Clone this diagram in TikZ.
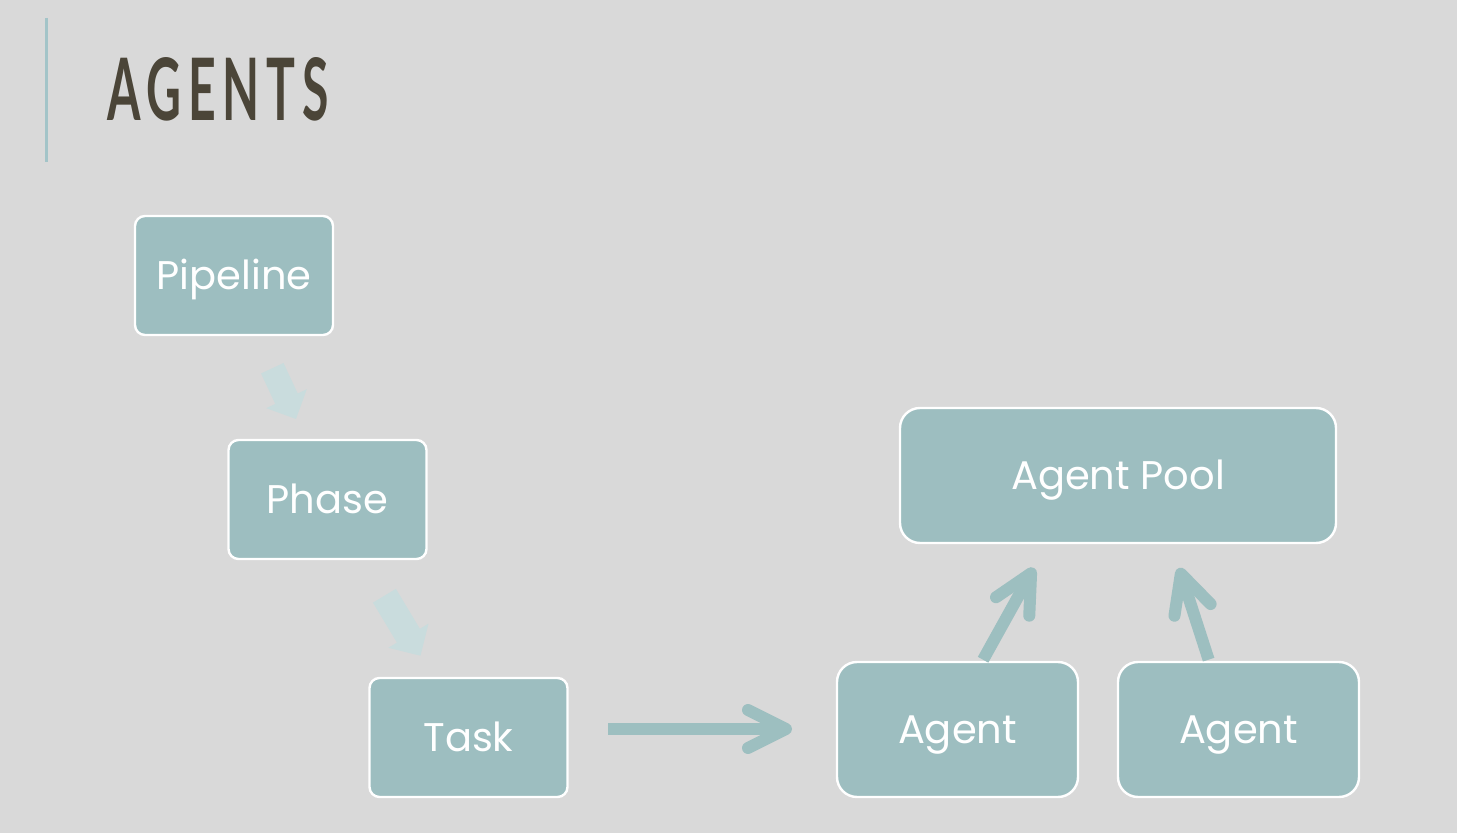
\documentclass[tikz,border=0pt]{standalone}
\usepackage{fontspec}
\setmainfont{Poppins}
\newfontfamily\titlefont[LetterSpace=14]{Lato}
\usetikzlibrary{arrows.meta,shapes.arrows}
\definecolor{bgc}{HTML}{D9D9D9}
\definecolor{boxc}{HTML}{9DBEC0}
\definecolor{arrowc}{HTML}{9DBFC0}
\definecolor{lightc}{HTML}{C9DCDD}
\definecolor{rulec}{HTML}{A3C4C8}
\definecolor{titlec}{HTML}{4B4538}
\begin{document}
\begin{tikzpicture}[x=0.5pt,y=-0.5pt,
  box/.style={draw=white, line width=1.2pt, fill=boxc, text=white,
    font=\fontsize{20}{24}\selectfont, inner sep=0pt, text height=14pt, text depth=0pt},
  smallbox/.style={box, rounded corners=5pt, minimum width=99pt, minimum height=59.5pt},
  bigbox/.style={box, rounded corners=10pt, minimum height=67.5pt},
  conn/.style={draw=arrowc, line width=6pt, -{Straight Barb[length=19pt, width=19pt, line cap=round, line join=round]}},
  blockarrow/.style={single arrow, fill=lightc, draw=none, inner sep=0pt, text width=0pt}
]
\useasboundingbox[fill=bgc] (0,0) rectangle (1457,833);
% title rule and title
\draw[rulec, line width=1.5pt] (46,18) -- (46,162);
\node[anchor=base west, inner sep=0pt, text=titlec] (title) at (107,121)
  {\resizebox{110.5pt}{31.5pt}{\titlefont\bfseries AGENTS}};
% boxes
\node[smallbox] (pipeline) at (234,275.5) {Pipeline};
\node[smallbox] (phase) at (327.5,499.5) {Phase};
\node[smallbox] (task) at (468.5,737.5) {Task};
\node[bigbox, minimum width=218pt] (pool) at (1118,475.5) {Agent Pool};
\node[bigbox, minimum width=120.5pt] (agent1) at (957.5,729.5) {Agent};
\node[bigbox, minimum width=120.5pt] (agent2) at (1238.5,729.5) {Agent};
% faded block arrows
\node[blockarrow, minimum height=28pt, minimum width=22pt, inner ysep=6pt,
  single arrow head extend=5pt, rotate=-65] (ba1) at (281.5,388) {};
\node[blockarrow, minimum height=35pt, minimum width=23pt, inner ysep=6.5pt,
  single arrow head extend=5pt, rotate=-59] (ba2) at (399,620) {};
% connectors
\coordinate (h1) at (608,729);
\coordinate (h2) at (792,729);
\coordinate (t1) at (1034,568);
\coordinate (t2) at (1179,568);
\draw[conn] (h1) -- (h2);
\draw[conn, shorten <=0.6pt] ([xshift=12.5pt]agent1.north) -- (t1);
\draw[conn, shorten <=0.6pt] ([xshift=-14.75pt]agent2.north) -- (t2);
\end{tikzpicture}
\end{document}
